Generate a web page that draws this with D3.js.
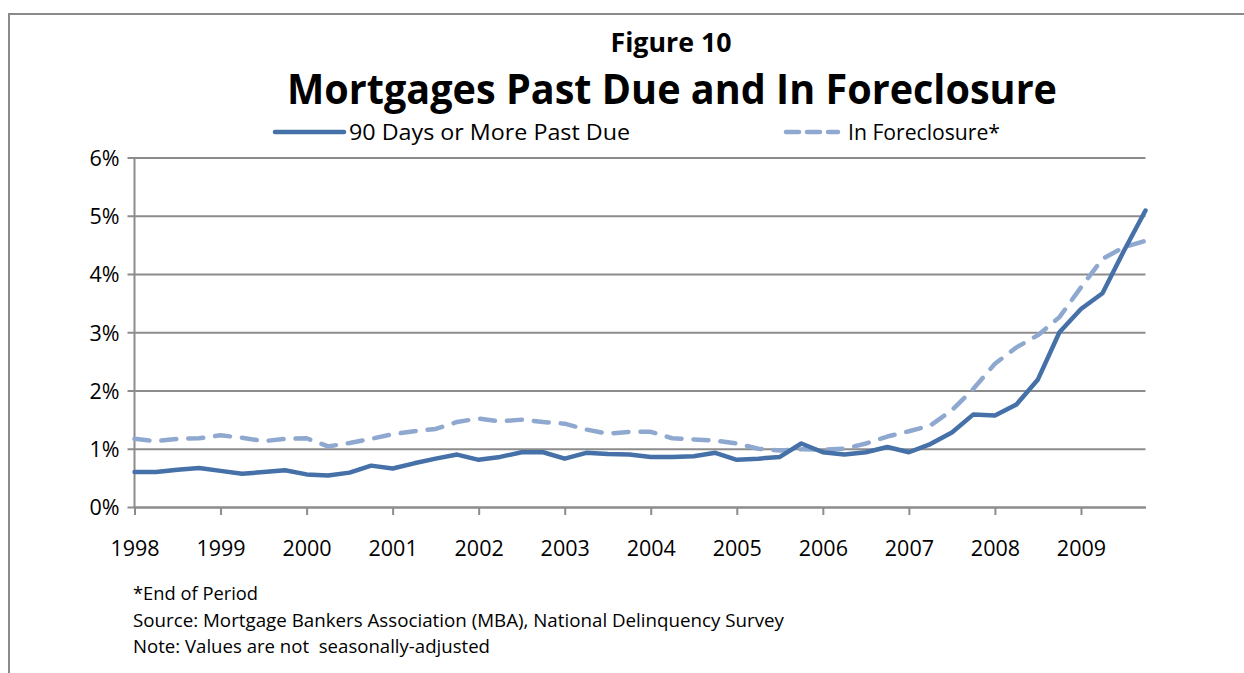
<!DOCTYPE html>
<html>
<head>
<meta charset="utf-8">
<script src="https://cdn.jsdelivr.net/npm/d3@7"></script>
<style>
  body { margin: 0; background: #fff; }
  text { font-family: "Open Sans", "Noto Sans", sans-serif; fill: #000; }
</style>
</head>
<body>
<div id="chart"></div>
<script>
// quarterly, 1998Q1 .. 2009Q4
const years = ['1998','1999','2000','2001','2002','2003','2004','2005','2006','2007','2008','2009'];
const quarters = years.flatMap(y => ['Q1','Q2','Q3','Q4'].map(q => y + q));

const pastDue = [
  0.60, 0.60, 0.64, 0.67, 0.62, 0.57, 0.60, 0.63,
  0.56, 0.54, 0.59, 0.71, 0.66, 0.75, 0.83, 0.90,
  0.81, 0.86, 0.94, 0.94, 0.83, 0.93, 0.91, 0.90,
  0.86, 0.86, 0.87, 0.93, 0.81, 0.83, 0.86, 1.09,
  0.94, 0.90, 0.94, 1.03, 0.94, 1.08, 1.28, 1.59,
  1.57, 1.76, 2.19, 3.00, 3.40, 3.67, 4.40, 5.09
];
const foreclosure = [
  1.17, 1.13, 1.17, 1.18, 1.23, 1.19, 1.13, 1.17,
  1.18, 1.04, 1.10, 1.17, 1.25, 1.30, 1.34, 1.46,
  1.52, 1.47, 1.50, 1.46, 1.43, 1.33, 1.26, 1.29,
  1.29, 1.18, 1.16, 1.14, 1.09, 1.00, 0.97, 0.99,
  0.985, 1.00, 1.09, 1.21, 1.30, 1.40, 1.66, 2.03,
  2.46, 2.74, 2.95, 3.26, 3.77, 4.26, 4.46, 4.57
];
const yTicks = [0, 1, 2, 3, 4, 5, 6];

const W = 1244, H = 673;
const m = { left: 134.5, right: 1145.5, top: 157.5, bottom: 507 };
const solidColor = '#4571a8', dashColor = '#8fa8cf', gridColor = '#8c8c8c';

const svg = d3.select('#chart').append('svg')
  .attr('width', W).attr('height', H);

// frame
svg.append('path')
  .attr('d', `M9,${H} V14 H${W}`)
  .attr('fill', 'none').attr('stroke', '#8a8a8a').attr('stroke-width', 2);

const x = d3.scalePoint().domain(quarters).range([m.left, m.right]);
const y = d3.scaleLinear().domain([0, 6]).range([m.bottom, m.top]);

// y gridlines + labels
const yAxis = d3.axisLeft(y).tickValues(yTicks)
  .tickSize(-(m.right - m.left)).tickSizeOuter(0)
  .tickFormat(d => d + '%').tickPadding(15);
const gy = svg.append('g').attr('transform', `translate(${m.left},0)`).call(yAxis);
gy.select('.domain').remove();
gy.selectAll('.tick line')
  .attr('x1', -7).attr('stroke', gridColor).attr('stroke-width', 2);
gy.selectAll('.tick text')
  .attr('font-size', 21.5).attr('font-family', '"Open Sans", sans-serif')
  .attr('fill', '#000').attr('dy', '0.36em');

// y axis line
svg.append('line')
  .attr('x1', m.left).attr('x2', m.left).attr('y1', m.top).attr('y2', m.bottom)
  .attr('stroke', gridColor).attr('stroke-width', 2);

// x axis
const xAxis = d3.axisBottom(x)
  .tickValues(years.map(yy => yy + 'Q1'))
  .tickFormat(d => d.slice(0, 4))
  .tickSize(8).tickSizeOuter(0).tickPadding(26);
const gx = svg.append('g').attr('transform', `translate(0,${m.bottom})`).call(xAxis);
gx.select('.domain').attr('stroke', gridColor).attr('stroke-width', 2);
gx.selectAll('.tick line').attr('stroke', gridColor).attr('stroke-width', 2);
gx.selectAll('.tick text')
  .attr('font-size', 21.5).attr('font-family', '"Open Sans", sans-serif').attr('fill', '#000');

// series
const line = d3.line().x((d, i) => x(quarters[i])).y(d => y(d));

svg.append('path').datum(foreclosure)
  .attr('d', line).attr('fill', 'none')
  .attr('stroke', dashColor).attr('stroke-width', 4.5)
  .attr('stroke-dasharray', '15 12').attr('stroke-linecap', 'round')
  .attr('stroke-linejoin', 'round');

svg.append('path').datum(pastDue)
  .attr('d', line).attr('fill', 'none')
  .attr('stroke', solidColor).attr('stroke-width', 4.5)
  .attr('stroke-linecap', 'round').attr('stroke-linejoin', 'round');

// titles
svg.append('text').attr('x', 671).attr('y', 52).attr('text-anchor', 'middle')
  .attr('font-size', 26).attr('font-weight', 'bold')
  .attr('textLength', 121).attr('lengthAdjust', 'spacingAndGlyphs')
  .text('Figure 10');
svg.append('text').attr('x', 672).attr('y', 104).attr('text-anchor', 'middle')
  .attr('font-size', 41).attr('font-weight', 'bold')
  .attr('textLength', 770).attr('lengthAdjust', 'spacingAndGlyphs')
  .text('Mortgages Past Due and In Foreclosure');

// legend
svg.append('line').attr('x1', 275).attr('x2', 344).attr('y1', 132).attr('y2', 132)
  .attr('stroke', solidColor).attr('stroke-width', 4.5).attr('stroke-linecap', 'round');
svg.append('text').attr('x', 349).attr('y', 139.5).attr('font-size', 21.5)
  .attr('textLength', 281).attr('lengthAdjust', 'spacingAndGlyphs')
  .text('90 Days or More Past Due');
svg.append('line').attr('x1', 786).attr('x2', 838).attr('y1', 132).attr('y2', 132)
  .attr('stroke', dashColor).attr('stroke-width', 4.5).attr('stroke-linecap', 'round')
  .attr('stroke-dasharray', '13 8');
svg.append('text').attr('x', 848).attr('y', 139.5).attr('font-size', 21.5)
  .attr('textLength', 152).attr('lengthAdjust', 'spacingAndGlyphs')
  .text('In Foreclosure*');

// footnotes
const notes = [
  ['*End of Period', 600, 125],
  ['Source: Mortgage Bankers Association (MBA), National Delinquency Survey', 627, 651],
  ['Note: Values are not  seasonally-adjusted', 653, 357]
];
svg.selectAll('.note').data(notes).join('text')
  .attr('class', 'note')
  .attr('x', 133).attr('y', d => d[1]).attr('font-size', 17.5)
  .attr('textLength', d => d[2]).attr('lengthAdjust', 'spacingAndGlyphs')
  .style('white-space', 'pre')
  .text(d => d[0]);
</script>
</body>
</html>
